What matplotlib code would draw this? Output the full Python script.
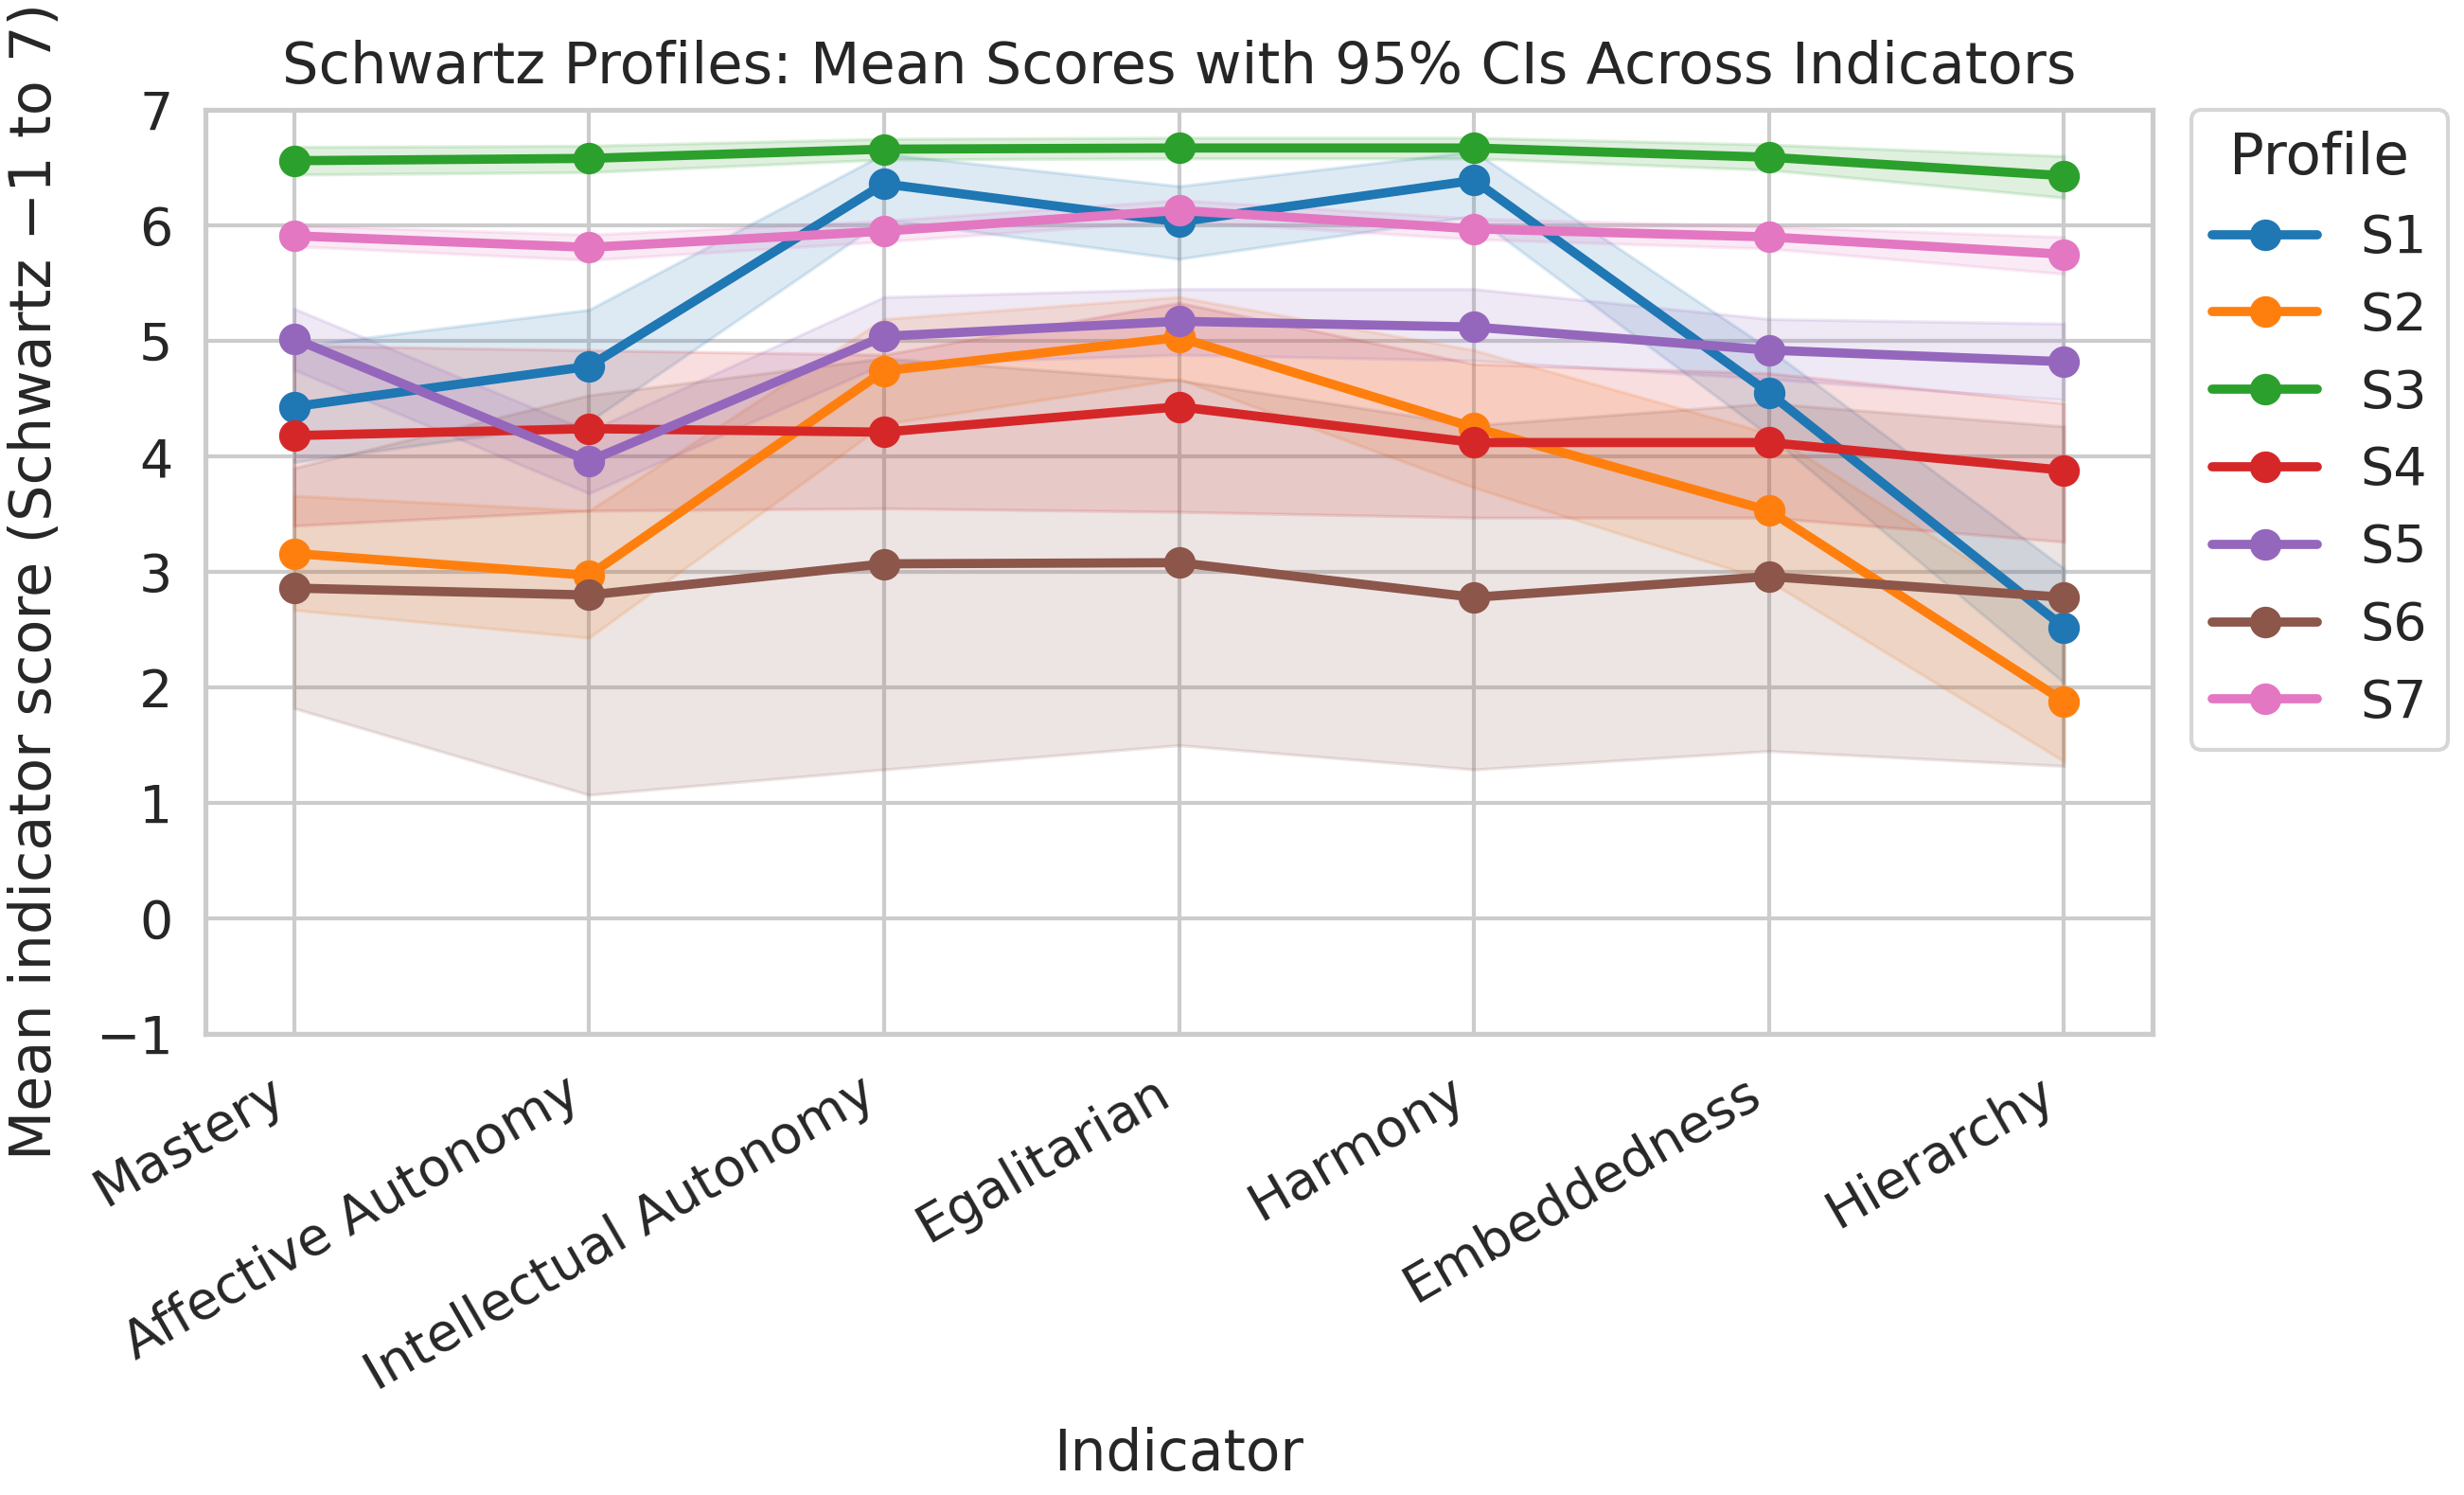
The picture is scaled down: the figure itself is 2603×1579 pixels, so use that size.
"""Schwartz profile means with 95% CI bands across indicators."""

import matplotlib

matplotlib.use("Agg")
import matplotlib.pyplot as plt
import seaborn as sns

INDICATORS = [
    "Mastery",
    "Affective Autonomy",
    "Intellectual Autonomy",
    "Egalitarian",
    "Harmony",
    "Embeddedness",
    "Hierarchy",
]
PROFILES = ["S1", "S2", "S3", "S4", "S5", "S6", "S7"]

MEANS = {
    "S1": [4.43, 4.78, 6.36, 6.03, 6.39, 4.55, 2.52],
    "S2": [3.16, 2.97, 4.74, 5.03, 4.25, 3.53, 1.88],
    "S3": [6.56, 6.58, 6.66, 6.67, 6.67, 6.59, 6.43],
    "S4": [4.18, 4.24, 4.21, 4.43, 4.12, 4.12, 3.88],
    "S5": [5.02, 3.96, 5.04, 5.17, 5.12, 4.92, 4.82],
    "S6": [2.86, 2.80, 3.07, 3.08, 2.78, 2.96, 2.78],
    "S7": [5.91, 5.81, 5.95, 6.13, 5.97, 5.90, 5.75],
}
LOWER = {
    "S1": [3.95, 4.30, 6.05, 5.71, 6.08, 4.18, 2.04],
    "S2": [2.67, 2.43, 4.28, 4.67, 3.73, 2.92, 1.36],
    "S3": [6.44, 6.46, 6.57, 6.58, 6.58, 6.48, 6.24],
    "S4": [3.40, 3.53, 3.55, 3.52, 3.47, 3.47, 3.26],
    "S5": [4.75, 3.68, 4.80, 4.88, 4.83, 4.67, 4.49],
    "S6": [1.82, 1.07, 1.29, 1.50, 1.29, 1.45, 1.32],
    "S7": [5.82, 5.70, 5.86, 6.04, 5.88, 5.80, 5.58],
}
UPPER = {
    "S1": [4.95, 5.27, 6.62, 6.34, 6.64, 4.93, 3.03],
    "S2": [3.66, 3.53, 5.19, 5.38, 4.92, 4.20, 2.59],
    "S3": [6.68, 6.69, 6.75, 6.76, 6.76, 6.70, 6.60],
    "S4": [4.96, 4.92, 4.88, 5.33, 4.80, 4.72, 4.46],
    "S5": [5.28, 4.22, 5.38, 5.45, 5.45, 5.19, 5.15],
    "S6": [3.90, 4.53, 4.85, 4.66, 4.27, 4.46, 4.26],
    "S7": [6.00, 5.92, 6.04, 6.22, 6.06, 5.99, 5.90],
}

sns.set_theme(style="whitegrid", context="talk")
plt.rcParams["font.family"] = ["DejaVu Sans"]

colors = sns.color_palette("tab10", len(PROFILES))
x = list(range(len(INDICATORS)))

fig = plt.figure(figsize=(13.015, 7.895), dpi=200)
ax = fig.add_axes([0.0834, 0.3084, 0.7902, 0.6181])

for profile, color in zip(PROFILES, colors):
    ax.fill_between(x, LOWER[profile], UPPER[profile], color=color, alpha=0.15, linewidth=1.2)
    ax.plot(
        x,
        MEANS[profile],
        color=color,
        linewidth=3.5,
        marker="o",
        markersize=11,
        solid_capstyle="round",
        label=profile,
    )

ax.set_xlim(-0.3, len(INDICATORS) - 0.7)
ax.set_ylim(-1, 7)
ax.set_xticks(x)
ax.set_xticklabels(INDICATORS, rotation=30, ha="right", fontsize=20)
ax.tick_params(axis="y", labelsize=20)
ax.set_xlabel("Indicator", fontsize=21.5, labelpad=10)
ax.set_ylabel("Mean indicator score (Schwartz \u22121 to 7)", fontsize=21.8, labelpad=12)
ax.yaxis.label.set_y(0.49)
ax.set_title("Schwartz Profiles: Mean Scores with 95% CIs Across Indicators", fontsize=21.9, pad=10)

leg = ax.legend(
    title="Profile",
    loc="upper left",
    bbox_to_anchor=(1.02, 1.0),
    borderaxespad=0,
    fontsize=20,
    title_fontsize=22,
    frameon=True,
)

fig.savefig("out.png", dpi=200)
